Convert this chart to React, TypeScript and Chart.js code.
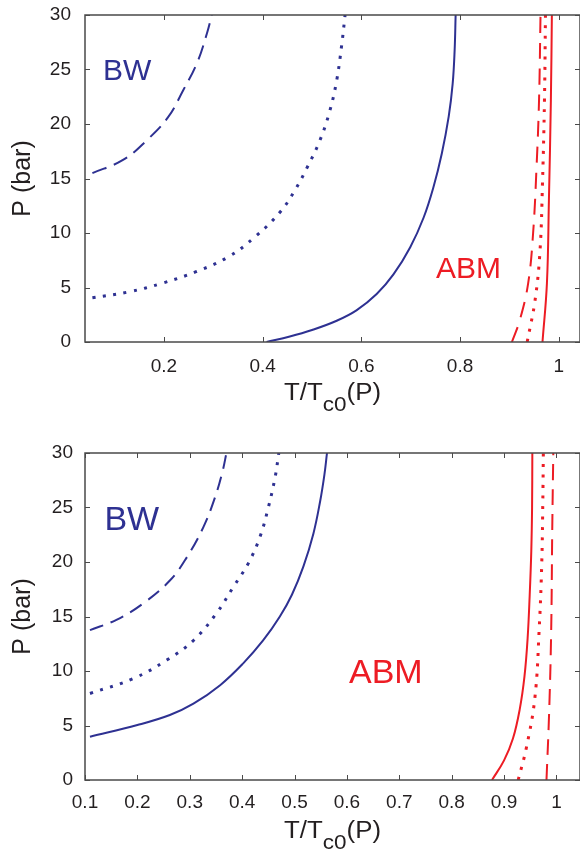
import React, { useEffect, useRef } from "react";
import { Chart, registerables } from "chart.js";

Chart.register(...registerables);

const BLUE = "#2E3192";
const RED = "#ED1C24";
const AXIS = "#4a4a4a";
const TEXT = "#231F20";
const FONT = '"Liberation Sans", Arial, Helvetica, sans-serif';

// ---------- tick labels ----------
const yTicks = [0, 5, 10, 15, 20, 25, 30];
const topXTicks = [0.2, 0.4, 0.6, 0.8, 1];
const bottomXTicks = [0.1, 0.2, 0.3, 0.4, 0.5, 0.6, 0.7, 0.8, 0.9, 1];

// ---------- top panel data (T/Tc0, P in bar) ----------
const topBlueDashedT = [0.055, 0.117, 0.165, 0.208, 0.239, 0.267, 0.287, 0.297];
const topBlueDashedP = [15.5, 16.7, 18.5, 20.6, 23.1, 25.6, 28.3, 30];
const topBlueDottedT = [0.055, 0.129, 0.197, 0.265, 0.33, 0.385, 0.435, 0.465, 0.49, 0.516, 0.536, 0.55, 0.56, 0.567];
const topBlueDottedP = [4.06, 4.6, 5.4, 6.45, 7.8, 9.66, 11.9, 13.9, 16.0, 18.5, 21.2, 24, 27.2, 30];
const topBlueSolidT = [0.408, 0.455, 0.5, 0.55, 0.59, 0.631, 0.665, 0.699, 0.726, 0.746, 0.763, 0.777, 0.785, 0.789, 0.791];
const topBlueSolidP = [0, 0.5, 1.1, 1.95, 2.9, 4.4, 6.2, 8.7, 11.4, 14.2, 17.3, 20.7, 23.7, 26.8, 30];
const topRedDashedT = [0.905, 0.921, 0.938, 0.948, 0.955, 0.96, 0.963];
const topRedDashedP = [0, 2.0, 5.4, 10, 16.1, 22.2, 30];
const topRedDottedT = [0.936, 0.952, 0.962, 0.967, 0.971, 0.973];
const topRedDottedP = [0, 3.85, 8.4, 14.6, 22.2, 30];
const topRedSolidT = [0.967, 0.976, 0.98, 0.984, 0.986];
const topRedSolidP = [0, 5.4, 13, 22.2, 30];

// ---------- bottom panel data ----------
const bottomBlueDashedT = [0.1095, 0.16, 0.211, 0.262, 0.294, 0.326, 0.348, 0.363, 0.37];
const bottomBlueDashedP = [13.75, 14.7, 16.2, 18.3, 20.4, 23.2, 25.9, 28.4, 30];
const bottomBlueDottedT = [0.1095, 0.192, 0.256, 0.307, 0.351, 0.383, 0.412, 0.434, 0.45, 0.463, 0.47];
const bottomBlueDottedP = [7.94, 9.3, 11, 12.8, 15.3, 17.7, 19.9, 22.3, 25.0, 27.8, 30];
const bottomBlueSolidT = [0.1095, 0.2, 0.262, 0.307, 0.358, 0.402, 0.44, 0.472, 0.495, 0.517, 0.536, 0.549, 0.557, 0.562];
const bottomBlueSolidP = [3.97, 5.04, 5.96, 7.0, 8.7, 10.7, 12.8, 15.0, 17.0, 19.6, 22.6, 25.6, 28.0, 30];
const bottomRedSolidT = [0.877, 0.9, 0.917, 0.93, 0.939, 0.945, 0.949, 0.952, 0.9535, 0.954];
const bottomRedSolidP = [0, 1.8, 3.8, 6.5, 9.5, 13, 17, 21, 25, 30];
const bottomRedDottedT = [0.927, 0.943, 0.959, 0.967, 0.972, 0.974, 0.975];
const bottomRedDottedP = [0, 3.05, 7.6, 13.75, 19.9, 25.5, 30];
const bottomRedDashedT = [0.981, 0.986, 0.99, 0.992, 0.994];
const bottomRedDashedP = [0, 6.1, 13.75, 22.9, 30];

// ---------- region labels (data coordinates of text baseline start) ----------
const topLabelText = ["BW", "ABM"];
const topLabelT = [0.0765, 0.751];
const topLabelP = [24.0, 5.87];
const bottomLabelText = ["BW", "ABM"];
const bottomLabelT = [0.137, 0.604];
const bottomLabelP = [22.9, 8.9];

type Style = "solid" | "dashed" | "dotted";
type Curve = { t: number[]; p: number[]; color: string; style: Style; dash?: number[] };

function makeDataset(c: Curve) {
  const dash = c.style === "solid" ? [] : c.dash || (c.style === "dashed" ? [15, 8] : [3, 7.5]);
  return {
    data: c.t.map((x, i) => ({ x, y: c.p[i] })),
    borderColor: c.color,
    backgroundColor: c.color,
    borderWidth: c.style === "dotted" ? 3 : 2,
    borderDash: dash,
    borderCapStyle: "butt" as const,
    borderJoinStyle: "round" as const,
    pointRadius: 0,
    pointHoverRadius: 0,
    tension: 0.4,
    fill: false,
  };
}

type PanelProps = {
  width: number;
  height: number;
  padTop: number;
  xAxisH: number;
  xMin: number;
  xMax: number;
  xTicks: number[];
  xTickPad: number;
  yTickPad: number;
  curves: Curve[];
  labelText: string[];
  labelT: number[];
  labelP: number[];
  labelColors: string[];
  labelSize: number;
};

function Panel(props: PanelProps) {
  const ref = useRef<HTMLCanvasElement>(null);
  useEffect(() => {
    const canvas = ref.current;
    if (!canvas) return;
    const framePlugin = {
      id: "frameAndText",
      afterDraw(chart: any) {
        const { ctx, chartArea: a, scales } = chart;
        const xs = scales.x;
        const ys = scales.y;
        ctx.save();
        // frame
        ctx.strokeStyle = AXIS;
        ctx.lineWidth = 1.5;
        ctx.strokeRect(a.left, a.top, a.right - a.left, a.bottom - a.top);
        // inward ticks
        ctx.beginPath();
        const tl = 5;
        for (const v of props.xTicks) {
          const px = Math.round(xs.getPixelForValue(v)) + 0.5;
          ctx.moveTo(px, a.bottom);
          ctx.lineTo(px, a.bottom - tl);
          ctx.moveTo(px, a.top);
          ctx.lineTo(px, a.top + tl);
        }
        for (const v of yTicks) {
          const py = Math.round(ys.getPixelForValue(v)) + 0.5;
          ctx.moveTo(a.left, py);
          ctx.lineTo(a.left + tl, py);
          ctx.moveTo(a.right, py);
          ctx.lineTo(a.right - tl, py);
        }
        ctx.lineWidth = 1;
        ctx.stroke();

        // region labels
        ctx.textAlign = "left";
        ctx.textBaseline = "alphabetic";
        ctx.font = `${props.labelSize}px ${FONT}`;
        props.labelText.forEach((txt, i) => {
          ctx.fillStyle = props.labelColors[i];
          ctx.fillText(txt, xs.getPixelForValue(props.labelT[i]), ys.getPixelForValue(props.labelP[i]));
        });

        // x-axis title  T/T_c0(P)
        ctx.fillStyle = TEXT;
        const mainF = `23px ${FONT}`;
        const subF = `20px ${FONT}`;
        ctx.font = mainF;
        const w1 = ctx.measureText("T/T").width;
        const w3 = ctx.measureText("(P)").width;
        ctx.font = subF;
        const w2 = ctx.measureText("c0").width;
        const natural = w1 + w2 + w3;
        const target = 97;
        const sx = target / natural;
        const cx = (a.left + a.right) / 2;
        const base = a.bottom + 58;
        ctx.save();
        ctx.translate(cx - target / 2, base);
        ctx.scale(sx, 1);
        ctx.font = mainF;
        ctx.fillText("T/T", 0, 0);
        ctx.font = subF;
        ctx.fillText("c0", w1, 11);
        ctx.font = mainF;
        ctx.fillText("(P)", w1 + w2, 0);
        ctx.restore();

        // y-axis title
        ctx.save();
        ctx.translate(30, (a.top + a.bottom) / 2);
        ctx.rotate(-Math.PI / 2);
        ctx.textAlign = "center";
        ctx.font = `25px ${FONT}`;
        ctx.fillStyle = TEXT;
        ctx.fillText("P (bar)", 0, 0);
        ctx.restore();

        ctx.restore();
      },
    };

    const chart = new Chart(canvas, {
      type: "line",
      data: { datasets: props.curves.map(makeDataset) as any },
      options: {
        animation: false,
        responsive: false,
        events: [],
        layout: { padding: { top: props.padTop, left: 0, right: 0, bottom: 0 } },
        plugins: { legend: { display: false }, tooltip: { enabled: false }, title: { display: false } },
        scales: {
          x: {
            type: "linear",
            min: props.xMin,
            max: props.xMax,
            grid: { display: false, drawTicks: false },
            border: { display: false },
            afterBuildTicks: (s: any) => {
              s.ticks = props.xTicks.map((v) => ({ value: v }));
            },
            afterFit: (s: any) => {
              s.height = props.xAxisH;
              s.paddingLeft = 0;
              s.paddingRight = 0;
            },
            ticks: {
              padding: props.xTickPad,
              color: TEXT,
              font: { family: FONT, size: 19 },
              maxRotation: 0,
              autoSkip: false,
              callback: (v: any) => String(v),
            },
          },
          y: {
            type: "linear",
            min: 0,
            max: 30,
            grid: { display: false, drawTicks: false },
            border: { display: false },
            afterBuildTicks: (s: any) => {
              s.ticks = yTicks.map((v) => ({ value: v }));
            },
            afterFit: (s: any) => {
              s.width = 85;
              s.paddingTop = 0;
              s.paddingBottom = 0;
            },
            ticks: {
              padding: props.yTickPad,
              color: TEXT,
              font: { family: FONT, size: 19 },
              autoSkip: false,
              callback: (v: any) => String(v),
            },
          },
        },
      },
      plugins: [framePlugin],
    });
    return () => chart.destroy();
  }, []);
  return <canvas ref={ref} width={props.width} height={props.height} style={{ display: "block" }} />;
}

const topCurves: Curve[] = [
  { t: topBlueDashedT, p: topBlueDashedP, color: BLUE, style: "dashed", dash: [15, 8] },
  { t: topBlueDottedT, p: topBlueDottedP, color: BLUE, style: "dotted" },
  { t: topBlueSolidT, p: topBlueSolidP, color: BLUE, style: "solid" },
  { t: topRedDashedT, p: topRedDashedP, color: RED, style: "dashed", dash: [16, 10] },
  { t: topRedDottedT, p: topRedDottedP, color: RED, style: "dotted" },
  { t: topRedSolidT, p: topRedSolidP, color: RED, style: "solid" },
];

const bottomCurves: Curve[] = [
  { t: bottomBlueDashedT, p: bottomBlueDashedP, color: BLUE, style: "dashed", dash: [14, 8] },
  { t: bottomBlueDottedT, p: bottomBlueDottedP, color: BLUE, style: "dotted" },
  { t: bottomBlueSolidT, p: bottomBlueSolidP, color: BLUE, style: "solid" },
  { t: bottomRedSolidT, p: bottomRedSolidP, color: RED, style: "solid" },
  { t: bottomRedDottedT, p: bottomRedDottedP, color: RED, style: "dotted" },
  { t: bottomRedDashedT, p: bottomRedDashedP, color: RED, style: "dashed", dash: [16, 9] },
];

export default function App() {
  return (
    <div style={{ position: "absolute", left: 0, top: 0, width: 580, height: 853, background: "#fff" }}>
      <Panel
        width={580}
        height={426}
        padTop={15}
        xAxisH={84}
        xMin={0.04}
        xMax={1.043}
        xTicks={topXTicks}
        xTickPad={13}
        yTickPad={14}
        curves={topCurves}
        labelText={topLabelText}
        labelT={topLabelT}
        labelP={topLabelP}
        labelColors={[BLUE, RED]}
        labelSize={30}
      />
      <Panel
        width={580}
        height={427}
        padTop={27}
        xAxisH={73}
        xMin={0.1}
        xMax={1.045}
        xTicks={bottomXTicks}
        xTickPad={11}
        yTickPad={12}
        curves={bottomCurves}
        labelText={bottomLabelText}
        labelT={bottomLabelT}
        labelP={bottomLabelP}
        labelColors={[BLUE, RED]}
        labelSize={34}
      />
    </div>
  );
}
